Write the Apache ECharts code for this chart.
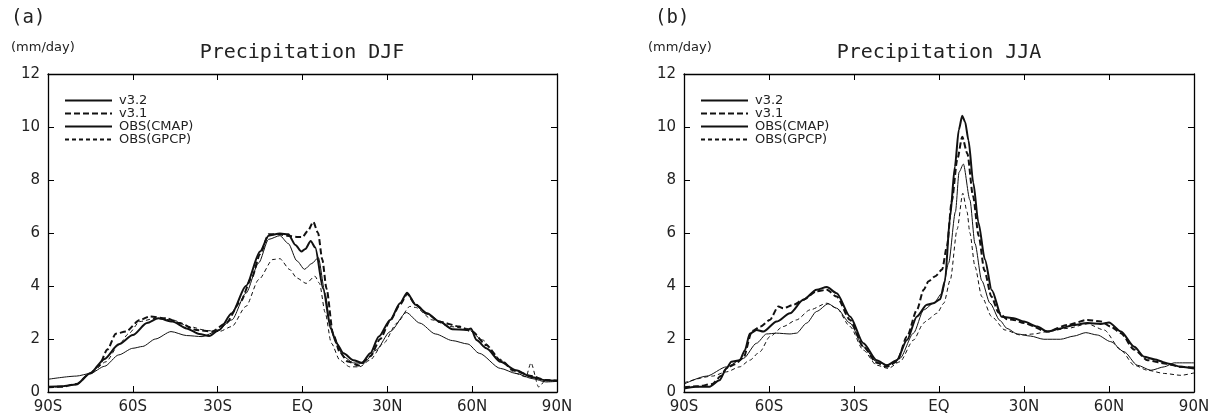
<!DOCTYPE html>
<html>
<head>
<meta charset="utf-8">
<script src="https://cdn.jsdelivr.net/npm/echarts@6/dist/echarts.min.js"></script>
<style>html,body{margin:0;padding:0;background:#fff;}#c{width:1215px;height:419px;}</style>
</head>
<body>
<div id="c"></div>
<script>
// ---- tick labels ----
const latTicks = [-90, -60, -30, 0, 30, 60, 90];
const latLabels = ['90S', '60S', '30S', 'EQ', '30N', '60N', '90N'];
const seriesNames = ['v3.2', 'v3.1', 'OBS(CMAP)', 'OBS(GPCP)'];

// ---- DJF ----
const djfV32Lat = [-90,-85,-80,-75,-70,-65,-60,-55,-51,-46,-41,-36.5,-33,-29.5,-25,-20,-15,-12,-8,-5,-2.5,-0.4,1,2.9,4.5,7.3,10,12,14.5,18,21,24,27,31,34.5,37,40,44,48.5,53,58,59.6,61.5,65,70,75.5,81,86,90];
const djfV32Val = [0.2,0.22,0.28,0.72,1.25,1.8,2.15,2.6,2.78,2.66,2.4,2.19,2.11,2.34,2.97,4.0,5.3,5.9,5.98,5.95,5.55,5.3,5.4,5.7,5.45,3.9,2.4,1.84,1.46,1.2,1.1,1.46,2.09,2.72,3.35,3.75,3.29,2.97,2.66,2.37,2.34,2.4,1.96,1.65,1.14,0.82,0.57,0.44,0.42];

const djfV31Lat = [-90,-85,-80,-75,-72,-69,-66,-62.5,-57.5,-54,-48,-43.5,-37.5,-32,-27,-22,-18,-15,-12,-8,-5.5,-2,0,2,3.8,5.5,7,8.5,10.8,13.2,16,20,24,27.5,31,34.5,37,40,44,48.5,55.5,60,65,70,75,81,86,90];
const djfV31Val = [0.18,0.2,0.3,0.7,1.0,1.6,2.2,2.28,2.72,2.85,2.78,2.6,2.34,2.28,2.6,3.4,4.3,5.2,5.95,5.95,5.9,5.85,5.85,6.1,6.42,6.0,5.0,3.9,2.2,1.5,1.15,1.0,1.35,2.0,2.7,3.3,3.7,3.3,2.95,2.65,2.47,2.28,1.77,1.2,0.8,0.6,0.45,0.42];

const djfCmapLat = [-90,-80,-75,-70,-65,-60,-56.5,-52,-46.5,-41,-35.5,-30.5,-25,-20,-15.5,-12,-8,-5,-2,0.7,3.3,5.6,8,9.7,11,14.5,18,21.5,26,31,36.7,41.5,47,53,58.5,62.5,70,75.5,81.5,86,90];
const djfCmapVal = [0.48,0.6,0.7,0.97,1.4,1.65,1.72,2.0,2.28,2.13,2.09,2.28,2.72,3.73,4.87,5.76,5.9,5.6,4.95,4.63,4.85,5.07,3.73,2.6,2.09,1.33,1.1,1.08,1.58,2.28,3.0,2.6,2.19,1.94,1.81,1.46,0.89,0.7,0.5,0.38,0.4];

const djfGpcpLat = [-90,-85,-80,-75,-69.5,-65,-61.5,-57.5,-52,-46,-40,-34,-29.5,-25,-20,-15.5,-10.5,-8,-4.5,-2,1.3,4.4,6,8,10.2,13.2,16.7,20.2,23.8,28.7,33.4,38,40,46,52,58,63.8,68.5,75.5,79,80.8,83.5,86,90];
const djfGpcpVal = [0.18,0.2,0.3,0.7,1.14,1.77,2.2,2.66,2.78,2.72,2.47,2.32,2.28,2.47,3.23,4.24,5.0,5.03,4.62,4.3,4.1,4.37,4.1,3.0,1.84,1.2,0.95,0.95,1.2,1.84,2.6,3.23,3.19,2.72,2.47,2.4,1.96,1.33,0.7,0.57,1.1,0.19,0.44,0.44];

// ---- JJA ----
const jjaV32Lat = [-90,-86,-81,-77.5,-75,-73.3,-70.3,-68.5,-66.8,-64.4,-62,-57.3,-52.6,-47.9,-43.2,-39.6,-36.1,-31.4,-26.7,-22,-18.4,-14.9,-11.3,-7.8,-4.3,-2,0.4,2.1,3.9,5.6,7,8.2,9.2,10.4,12.1,13.9,16.2,18.6,22.1,26.4,30,34.7,38.2,42.9,47.6,52.4,57.1,60,64.2,68.9,72.4,75.9,80.7,85.4,90];
const jjaV32Val = [0.13,0.2,0.2,0.44,0.89,1.14,1.2,1.58,2.2,2.34,2.28,2.66,2.97,3.48,3.86,3.96,3.73,2.85,1.84,1.2,1.01,1.2,1.96,2.85,3.29,3.35,3.5,4.2,6.6,8.5,9.9,10.42,10.2,9.5,7.9,6.4,5.0,3.85,2.84,2.78,2.66,2.47,2.28,2.4,2.53,2.6,2.57,2.62,2.28,1.71,1.33,1.24,1.08,0.95,0.89];

const jjaV31Lat = [-90,-85,-80,-77,-75,-72,-69,-66,-63,-59.7,-56.7,-55,-51.4,-47.9,-43.2,-39.6,-36.1,-31.4,-26.7,-22,-18.4,-14.9,-11.3,-7.8,-5.4,-3.7,-1.3,1.1,2.8,4.5,6.5,8.2,10,12,14,16,18.5,21,24,26.4,30,38.2,45.3,52.4,57.1,60.6,64.2,68.9,73.6,79.5,85.4,90];
const jjaV31Val = [0.18,0.22,0.3,0.6,0.9,1.05,1.3,2.3,2.47,2.72,3.23,3.16,3.29,3.48,3.8,3.86,3.6,2.72,1.71,1.1,0.95,1.14,2.09,3.1,3.86,4.18,4.37,4.62,5.5,7.2,8.8,9.63,9.0,7.4,5.9,4.6,3.6,3.0,2.75,2.72,2.6,2.28,2.53,2.72,2.66,2.47,2.22,1.6,1.2,1.08,0.95,0.92];

const jjaCmapLat = [-90,-82,-75,-69,-64.4,-60.9,-57.3,-52.6,-50.3,-46.7,-43.2,-39.1,-36.1,-31.4,-26.7,-22,-18,-13.8,-9,-5.4,-1.9,1.1,3.4,5.8,7.1,8.6,10.9,12.7,15.1,18,21.5,24,27.6,32.3,37,42.9,47.6,51.8,55.9,60.6,65.3,70,74.8,79.5,83,90];
const jjaCmapVal = [0.3,0.6,0.95,1.27,1.84,2.19,2.22,2.19,2.22,2.6,3.04,3.33,3.16,2.6,1.71,1.14,1.01,1.27,2.22,3.1,3.35,3.73,4.87,6.8,8.3,8.6,7.25,5.6,4.2,3.35,2.7,2.4,2.19,2.11,1.99,1.99,2.11,2.24,2.15,1.9,1.52,1.01,0.82,0.95,1.1,1.1];

const jjaGpcpLat = [-90,-80,-75,-70.3,-66.8,-63.2,-59.7,-55,-50.3,-45.5,-39.6,-36.1,-31.4,-26.7,-22,-17.9,-13.8,-9,-5.4,-4.2,-0.7,1.7,4,6.4,8.4,9.9,10.9,12.7,15.1,18.6,23.3,28.8,33.5,38.2,45.3,52.4,58.3,64.2,68.9,73.6,79.5,85.4,90];
const jjaGpcpVal = [0.35,0.6,0.76,0.95,1.2,1.52,2.09,2.47,2.72,3.1,3.35,3.16,2.47,1.58,1.01,0.89,1.14,1.96,2.6,2.72,2.97,3.35,4.24,6.14,7.5,6.8,6.0,4.73,3.6,2.84,2.34,2.15,2.19,2.28,2.4,2.57,2.34,1.58,1.01,0.82,0.7,0.63,0.72];

function pairs(lat, val) { return lat.map((l, i) => [l, val[i]]); }

const FONT = 'DejaVu Sans';
const MONO = 'DejaVu Sans Mono';
const TXT = '#222';
const lineStyles = [
  { width: 2, type: 'solid' },
  { width: 2, type: [6, 3] },
  { width: 1, type: 'solid' },
  { width: 1, type: [4, 3] }
];

function mkX(grid, top) {
  return {
    type: 'value', gridIndex: grid, min: -90, max: 90, interval: 30,
    position: top ? 'top' : 'bottom',
    axisLine: { show: true, onZero: false, lineStyle: { color: '#000', width: 1.3 } },
    axisTick: { show: true, inside: true, length: 6, lineStyle: { color: '#000', width: 1 } },
    splitLine: { show: false },
    axisLabel: top ? { show: false } : {
      show: true, margin: 8, fontFamily: FONT, fontSize: 15, color: TXT,
      formatter: v => latLabels[latTicks.indexOf(v)]
    }
  };
}
function mkY(grid, right) {
  return {
    type: 'value', gridIndex: grid, min: 0, max: 12, interval: 2,
    position: right ? 'right' : 'left',
    axisLine: { show: true, onZero: false, lineStyle: { color: '#000', width: 1.3 } },
    axisTick: { show: true, inside: true, length: 6, lineStyle: { color: '#000', width: 1 } },
    splitLine: { show: false },
    axisLabel: right ? { show: false } : { show: true, margin: 8, fontFamily: FONT, fontSize: 15, color: TXT }
  };
}
function mkSeries(name, idx, data, g) {
  return {
    name: name, type: 'line', xAxisIndex: g * 2, yAxisIndex: g * 2,
    data: data, symbol: 'none', smooth: 0.25, smoothMonotone: 'x',
    lineStyle: Object.assign({ color: '#111' }, lineStyles[idx]),
    itemStyle: { color: '#111' }, animation: false, silent: true
  };
}
function mkLegend(left) {
  return {
    orient: 'vertical', left: left, top: 94, padding: 0,
    itemWidth: 47, itemHeight: 10, itemGap: 0,
    data: seriesNames, selectedMode: false,
    itemStyle: { opacity: 0 },
    textStyle: { fontFamily: FONT, fontSize: 13, color: TXT, lineHeight: 12.5, padding: [0, 0, 0, 2] }
  };
}

const chart = echarts.init(document.getElementById('c'), null, { renderer: 'canvas' });
chart.setOption({
  backgroundColor: '#fff',
  animation: false,
  title: [
    { text: '(a)', left: 6, top: 4, textStyle: { fontFamily: MONO, fontSize: 19, fontWeight: 'normal', color: TXT } },
    { text: '(b)', left: 650, top: 4, textStyle: { fontFamily: MONO, fontSize: 19, fontWeight: 'normal', color: TXT } },
    { text: '(mm/day)', left: 6, top: 36, textStyle: { fontFamily: FONT, fontSize: 13, fontWeight: 'normal', color: TXT } },
    { text: '(mm/day)', left: 643, top: 36, textStyle: { fontFamily: FONT, fontSize: 13, fontWeight: 'normal', color: TXT } },
    { text: 'Precipitation DJF', left: 297, top: 38, textAlign: 'center', textStyle: { fontFamily: MONO, fontSize: 20, fontWeight: 'normal', color: TXT } },
    { text: 'Precipitation JJA', left: 934, top: 38, textAlign: 'center', textStyle: { fontFamily: MONO, fontSize: 20, fontWeight: 'normal', color: TXT } }
  ],
  legend: [mkLegend(64), mkLegend(700)],
  grid: [
    { left: 48, right: 658, top: 74, bottom: 27 },
    { left: 684, right: 21, top: 74, bottom: 27 }
  ],
  xAxis: [mkX(0, false), mkX(0, true), mkX(1, false), mkX(1, true)],
  yAxis: [mkY(0, false), mkY(0, true), mkY(1, false), mkY(1, true)],
  series: [
    mkSeries('v3.2', 0, pairs(djfV32Lat, djfV32Val), 0),
    mkSeries('v3.1', 1, pairs(djfV31Lat, djfV31Val), 0),
    mkSeries('OBS(CMAP)', 2, pairs(djfCmapLat, djfCmapVal), 0),
    mkSeries('OBS(GPCP)', 3, pairs(djfGpcpLat, djfGpcpVal), 0),
    mkSeries('v3.2', 0, pairs(jjaV32Lat, jjaV32Val), 1),
    mkSeries('v3.1', 1, pairs(jjaV31Lat, jjaV31Val), 1),
    mkSeries('OBS(CMAP)', 2, pairs(jjaCmapLat, jjaCmapVal), 1),
    mkSeries('OBS(GPCP)', 3, pairs(jjaGpcpLat, jjaGpcpVal), 1)
  ]
});
</script>
</body>
</html>
